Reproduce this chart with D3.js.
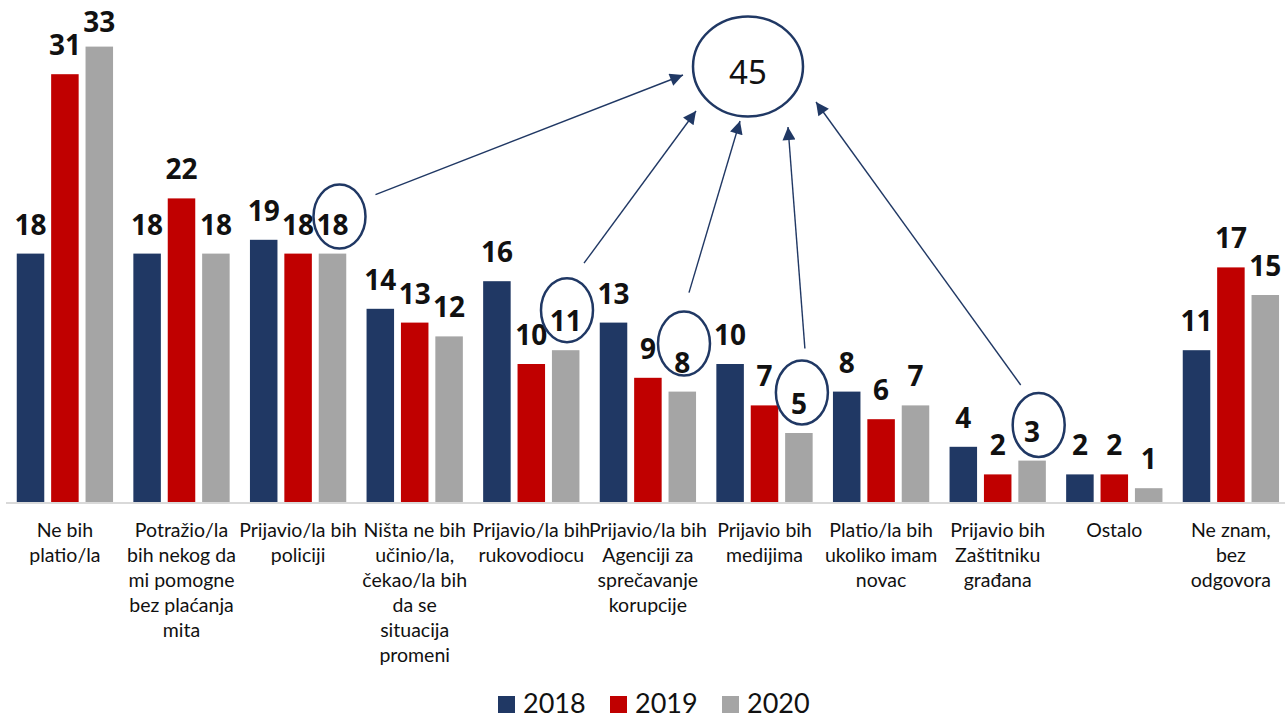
<!DOCTYPE html>
<html>
<head>
<meta charset="utf-8">
<script src="https://cdn.jsdelivr.net/npm/d3@7"></script>
<style>
  body { margin: 0; background: #fff; }
  svg { display: block; }
</style>
</head>
<body>
<div id="chart"></div>
<script>
// data
const categories = [
  ["Ne bih", "platio/la"],
  ["Potražio/la", "bih nekog da", "mi pomogne", "bez plaćanja", "mita"],
  ["Prijavio/la bih", "policiji"],
  ["Ništa ne bih", "učinio/la,", "čekao/la bih", "da se", "situacija", "promeni"],
  ["Prijavio/la bih", "rukovodiocu"],
  ["Prijavio/la bih", "Agenciji za", "sprečavanje", "korupcije"],
  ["Prijavio bih", "medijima"],
  ["Platio/la bih", "ukoliko imam", "novac"],
  ["Prijavio bih", "Zaštitniku", "građana"],
  ["Ostalo"],
  ["Ne znam,", "bez", "odgovora"]
];
const years = ["2018", "2019", "2020"];
const values2018 = [18, 18, 19, 14, 16, 13, 10, 8, 4, 2, 11];
const values2019 = [31, 22, 18, 13, 10, 9, 7, 6, 2, 2, 17];
const values2020 = [33, 18, 18, 12, 11, 8, 5, 7, 3, 1, 15];
const series = [values2018, values2019, values2020];

// highlighted 2020 values summed into the bubble
const highlighted = [2, 4, 5, 6, 8];
const bubbleValue = 45;

const width = 1285, height = 719;
const navy = "#203864";

const svg = d3.select("#chart")
    .append("svg")
    .attr("width", width)
    .attr("height", height);

const color = d3.scaleOrdinal()
    .domain(years)
    .range([navy, "#c00000", "#a5a5a5"]);

const catIdx = d3.range(categories.length);

const x0 = d3.scaleBand()
    .domain(catIdx)
    .range([6.6, 6.6 + 11 * 116.6]);

const x1 = d3.scaleBand()
    .domain(years)
    .range([10.15, 106.45])
    .paddingInner(0.2);

const y = d3.scaleLinear()
    .domain([0, 35])
    .range([502, 502 - 35 * 13.8]);

// rows for bars
const rows = [];
catIdx.forEach(i => {
    years.forEach((yr, j) => rows.push({ cat: i, year: yr, value: series[j][i] }));
});

// baseline
svg.append("line")
    .attr("x1", 6)
    .attr("x2", width)
    .attr("y1", y(0) + 1)
    .attr("y2", y(0) + 1)
    .attr("stroke", "#d9d9d9")
    .attr("stroke-width", 2);

// bars
svg.append("g")
    .selectAll("rect")
    .data(rows)
    .enter()
    .append("rect")
    .attr("x", d => x0(d.cat) + x1(d.year))
    .attr("y", d => y(d.value))
    .attr("width", x1.bandwidth())
    .attr("height", d => y(0) - y(d.value))
    .attr("fill", d => color(d.year));

// value labels (kept inside the top edge)
svg.append("g")
    .selectAll("text")
    .data(rows)
    .enter()
    .append("text")
    .attr("x", d => x0(d.cat) + x1(d.year) + x1.bandwidth() / 2)
    .attr("y", d => Math.max(32, y(d.value) - 19))
    .attr("text-anchor", "middle")
    .style("font-family", "'Open Sans', sans-serif")
    .style("font-weight", 700)
    .style("font-size", "28px")
    .style("fill", "#111")
    .text(d => d.value);

// category labels
const catLabels = svg.append("g")
    .selectAll("text")
    .data(catIdx)
    .enter()
    .append("text")
    .attr("x", i => x0(i) + x0.bandwidth() / 2)
    .attr("y", 536.7)
    .attr("text-anchor", "middle")
    .style("font-family", "Lato, sans-serif")
    .style("font-size", "19.5px")
    .style("fill", "#111");

catLabels.selectAll("tspan")
    .data(i => categories[i])
    .enter()
    .append("tspan")
    .attr("x", function() { return d3.select(this.parentNode).attr("x"); })
    .attr("dy", (d, k) => k === 0 ? 0 : 25)
    .text(d => d);

// annotation: ellipses around highlighted 2020 labels, arrows to bubble
const ellOffsetX = [7, 1.3, 1.7, 3, 6.6];
const ellOffsetY = [37, 40, 48, 40.5, 35.6];
const arrowStart = [[36, -22], [17, -47], [5, -51], [3, -44], [-18, -40]];
const arrowTip = [[683, 75], [696, 111], [740, 121], [788, 127], [816, 102]];

const defs = svg.append("defs");
defs.append("marker")
    .attr("id", "head")
    .attr("viewBox", "0 0 10 10")
    .attr("refX", 10)
    .attr("refY", 5)
    .attr("markerUnits", "userSpaceOnUse")
    .attr("markerWidth", 16)
    .attr("markerHeight", 13)
    .attr("orient", "auto")
    .append("path")
    .attr("d", "M0,0 L10,5 L0,10 Z")
    .attr("fill", navy);

const ann = svg.append("g");
highlighted.forEach((c, k) => {
    const cx = x0(c) + x1("2020") + x1.bandwidth() / 2 + ellOffsetX[k];
    const cy = y(values2020[c]) - ellOffsetY[k];
    ann.append("ellipse")
        .attr("cx", cx)
        .attr("cy", cy)
        .attr("rx", 26)
        .attr("ry", 32)
        .attr("fill", "none")
        .attr("stroke", navy)
        .attr("stroke-width", 2.5);
    ann.append("line")
        .attr("x1", cx + arrowStart[k][0])
        .attr("y1", cy + arrowStart[k][1])
        .attr("x2", arrowTip[k][0])
        .attr("y2", arrowTip[k][1])
        .attr("stroke", navy)
        .attr("stroke-width", 1.4)
        .attr("marker-end", "url(#head)");
});

ann.append("ellipse")
    .attr("cx", 748)
    .attr("cy", 66.5)
    .attr("rx", 55)
    .attr("ry", 50)
    .attr("fill", "none")
    .attr("stroke", navy)
    .attr("stroke-width", 2.5);

ann.append("text")
    .attr("x", 748)
    .attr("y", 84)
    .attr("text-anchor", "middle")
    .style("font-family", "'Noto Sans', sans-serif")
    .style("font-size", "33px")
    .style("fill", "#111")
    .text(bubbleValue);

// legend
const legendX = [498, 610, 722];
const legend = svg.selectAll(".legend")
    .data(years)
    .enter().append("g")
    .attr("class", "legend")
    .attr("transform", (d, i) => "translate(" + legendX[i] + ",696)");

legend.append("rect")
    .attr("width", 17)
    .attr("height", 17)
    .attr("fill", color);

legend.append("text")
    .attr("x", 25)
    .attr("y", 16.5)
    .style("font-family", "Lato, sans-serif")
    .style("font-size", "27px")
    .style("fill", "#111")
    .text(d => d);
</script>
</body>
</html>
